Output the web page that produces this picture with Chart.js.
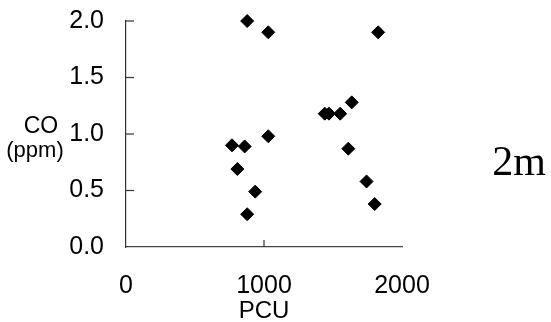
<!DOCTYPE html>
<html>
<head>
<meta charset="utf-8">
<script src="https://cdn.jsdelivr.net/npm/chart.js@4"></script>
<style>
  html, body { margin: 0; padding: 0; background: #fff; }
  #wrap { width: 551px; height: 322px; }
</style>
</head>
<body>
<div id="wrap"><canvas id="coChart" width="551" height="322"></canvas></div>
<script>
// Data
const pcu = [878, 1031, 1827, 1636, 1440, 1471, 1552, 1031, 768, 860, 1611, 807, 1743, 936, 1802, 878];
const co  = [2.0, 1.9, 1.9, 1.28, 1.18, 1.18, 1.18, 0.98, 0.9, 0.89, 0.87, 0.69, 0.58, 0.49, 0.38, 0.29];

const xTicks = [0, 1000, 2000];
const yTicks = [0, 0.5, 1.0, 1.5, 2.0];
const yTitle = ['CO', '(ppm)'];
const xTitle = 'PCU';
const panelLabel = '2m';

const points = pcu.map((x, i) => ({ x: x, y: co[i] }));

// Short inward tick marks + side labels
const extras = {
    id: 'extras',
    afterDraw(chart) {
        const ctx = chart.ctx;
        const xs = chart.scales.x;
        const ys = chart.scales.y;
        ctx.save();
        ctx.strokeStyle = '#333';
        ctx.lineWidth = 1.2;
        yTicks.slice(1).forEach(v => {
            const py = ys.getPixelForValue(v);
            ctx.beginPath();
            ctx.moveTo(xs.left, py);
            ctx.lineTo(xs.left + 8, py);
            ctx.stroke();
        });
        const px = xs.getPixelForValue(1000);
        ctx.beginPath();
        ctx.moveTo(px, ys.bottom);
        ctx.lineTo(px, ys.bottom - 7);
        ctx.stroke();

        ctx.fillStyle = '#000';
        ctx.textAlign = 'center';
        ctx.textBaseline = 'middle';
        ctx.font = '23px "Liberation Sans", Arial, sans-serif';
        ctx.fillText(yTitle[0], 41, 127);
        ctx.font = '22px "Liberation Sans", Arial, sans-serif';
        ctx.fillText(yTitle[1], 35, 151);

        ctx.font = '42px "Liberation Serif", "Times New Roman", serif';
        ctx.fillText(panelLabel, 519, 164);
        ctx.restore();
    }
};

const ctx = document.getElementById('coChart').getContext('2d');
new Chart(ctx, {
    type: 'scatter',
    data: {
        datasets: [{
            data: points,
            pointStyle: 'rectRot',
            pointRadius: 6.5,
            backgroundColor: '#000',
            borderColor: '#000',
            borderWidth: 1,
            clip: false
        }]
    },
    options: {
        responsive: false,
        animation: false,
        layout: { padding: { top: 21, right: 149, left: 0, bottom: 0 } },
        plugins: {
            legend: { display: false },
            tooltip: { enabled: false }
        },
        scales: {
            x: {
                type: 'linear',
                min: 0,
                max: 2000,
                afterFit(scale) {
                    scale.height = 75;
                    scale.paddingLeft = 0;
                    scale.paddingRight = 0;
                },
                afterBuildTicks(scale) { scale.ticks = xTicks.map(v => ({ value: v })); },
                grid: { display: false, drawTicks: false },
                border: { display: true, color: '#444', width: 1.2 },
                ticks: {
                    padding: 24,
                    color: '#000',
                    maxRotation: 0,
                    font: { family: '"Liberation Sans", Arial, sans-serif', size: 25 },
                    callback: v => String(v)
                },
                title: {
                    display: true,
                    text: xTitle,
                    color: '#000',
                    padding: { top: 0, bottom: 0 },
                    font: { family: '"Liberation Sans", Arial, sans-serif', size: 24, lineHeight: 0.9 }
                }
            },
            y: {
                type: 'linear',
                min: 0,
                max: 2,
                afterFit(scale) {
                    scale.width = 126;
                    scale.paddingTop = 0;
                    scale.paddingBottom = 0;
                },
                afterBuildTicks(scale) { scale.ticks = yTicks.map(v => ({ value: v })); },
                grid: { display: false, drawTicks: false },
                border: { display: true, color: '#333', width: 1.2 },
                ticks: {
                    padding: 22,
                    color: '#000',
                    font: { family: '"Liberation Sans", Arial, sans-serif', size: 25 },
                    callback: v => v.toFixed(1)
                }
            }
        }
    },
    plugins: [extras]
});
</script>
</body>
</html>
